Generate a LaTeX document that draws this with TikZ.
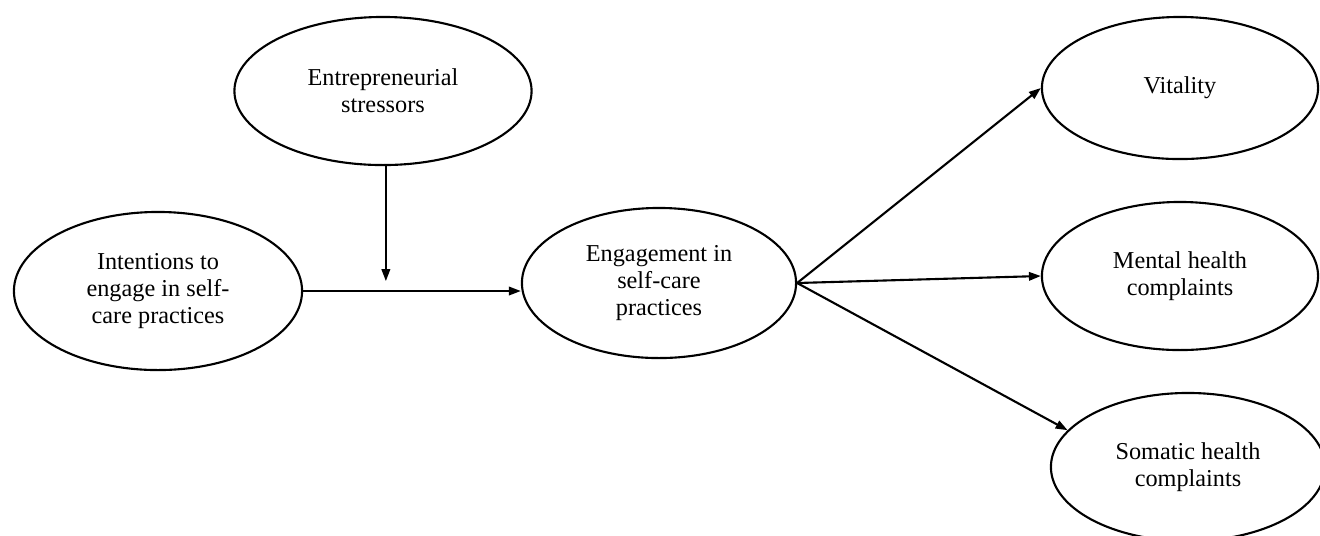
\documentclass[tikz,border=0pt]{standalone}
\usepackage{fontspec}
\setmainfont{Liberation Serif}
\usetikzlibrary{arrows.meta,calc,shapes.geometric}

\tikzset{
  construct/.style={draw, ellipse, line width=0.6pt, inner sep=0pt, align=center,
    font=\fontsize{6.9}{7.7}\selectfont},
  effect/.style={line width=0.6pt, -{Triangle[length=3.4pt,width=2.4pt]}}
}

\begin{document}
\begin{tikzpicture}[x=0.01cm, y=-0.01cm]
 \useasboundingbox (0,0) rectangle (1320,535);
 % latent constructs
 \node[construct, minimum width=2.88cm, minimum height=1.58cm] (int) at (158,291) {Intentions to\\engage in self-\\care practices};
 \node[construct, minimum width=2.97cm, minimum height=1.48cm] (str) at (383,91) {Entrepreneurial\\stressors};
 \node[construct, minimum width=2.74cm, minimum height=1.50cm] (eng) at (659,283) {Engagement in\\self-care\\practices};
 \node[construct, minimum width=2.76cm, minimum height=1.42cm] (vit) at (1180,88) {Vitality};
 \node[construct, minimum width=2.76cm, minimum height=1.48cm] (men) at (1180,276) {Mental health\\complaints};
 \node[construct, minimum width=2.74cm, minimum height=1.48cm] (som) at (1188,467) {Somatic health\\complaints};
 % paths
 \draw[effect] (int.east) -- (int.east -| eng.west);
 \coordinate (mod) at ($(int.east)!0.38!(int.east -| eng.west)$);
 \draw[effect, shorten >=2.8pt] (str.south -| mod) -- (mod);
 \draw[effect] (eng.east) -- (vit.west);
 \draw[effect] (eng.east) -- (men.west);
 \draw[effect] (eng.east) -- (som.163);
\end{tikzpicture}
\end{document}
